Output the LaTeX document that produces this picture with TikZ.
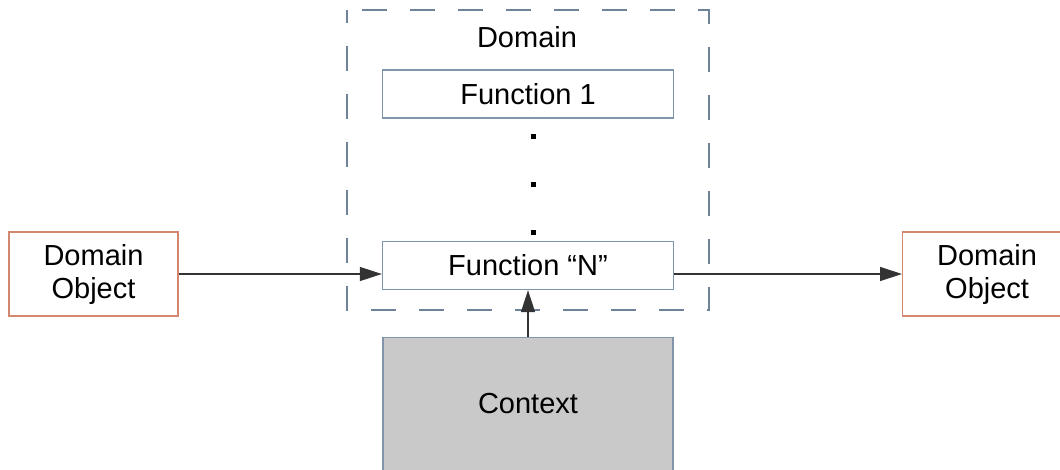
\documentclass[tikz,border=0pt]{standalone}
\usepackage{fontspec}
\setmainfont{Liberation Sans}
\usetikzlibrary{arrows.meta}
\definecolor{boxline}{HTML}{8094AA}
\definecolor{dashline}{HTML}{6E8399}
\definecolor{objline}{HTML}{D4876F}
\definecolor{ctxfill}{HTML}{C9C9C9}
\begin{document}
\begin{tikzpicture}[x=1pt,y=-1pt,
  every node/.style={font=\fontsize{29}{33}\selectfont, inner sep=0pt},
  funcbox/.style={draw=boxline, line width=1.3pt, fill=white, minimum width=291pt, minimum height=48pt},
  objbox/.style={draw=objline, line width=1.2pt, minimum width=169pt, minimum height=84pt, align=center},
  ctxbox/.style={draw=boxline, line width=1.3pt, fill=ctxfill, minimum width=290pt, minimum height=160pt},
  flow/.style={draw=black!80, line width=1.3pt, -{Triangle[length=22pt,width=14pt]}},
  dotmark/.style={fill=black, minimum size=5pt}
]
\useasboundingbox (0,0) rectangle (1060,469);

% domain frame
\draw[dashline, line width=1.3pt, dash pattern=on 25pt off 23pt, dash phase=12pt]
  (347,10) rectangle (709,310);
\node (domainlabel) at (527,37) {Domain};

% functions inside the domain
\node[funcbox] (f1) at (528,94) {Function 1};
\node[funcbox] (fn) at (528,265.5) {Function “N”};
\node[dotmark] (d1) at (533,136) {};
\node[dotmark] (d2) at (533,184) {};
\node[dotmark] (d3) at (533,232) {};

% context underneath
\node[ctxbox, anchor=north] (ctx) at (528,337) {};
\node (ctxlabel) at (528,404) {Context};

% domain objects in and out
\node[objbox] (objin) at (93.5,274) {Domain\\Object};
\node[objbox, anchor=west] (objout) at (902,274) {Domain\\Object};

% connectors (horizontal, at the height of the objects)
\coordinate (inend) at (objin.east -| fn.west);
\coordinate (outstart) at (objout.west -| fn.east);
\draw[flow] (objin.east) -- (inend);
\draw[flow] (outstart) -- (objout.west);
\draw[flow] (ctx.north) -- (fn.south);
\end{tikzpicture}
\end{document}
